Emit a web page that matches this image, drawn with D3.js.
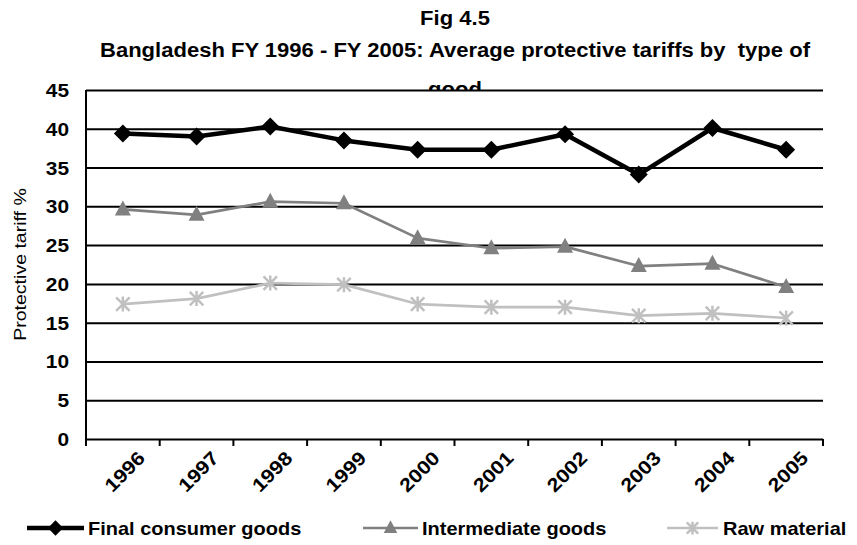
<!DOCTYPE html>
<html><head><meta charset="utf-8">
<script src="https://cdn.jsdelivr.net/npm/d3@7"></script>
<style>body{margin:0;background:#fff}svg{display:block;font-family:"Liberation Sans",Arial,sans-serif}</style>
</head><body>
<script>
const years = ["1996","1997","1998","1999","2000","2001","2002","2003","2004","2005"];
const finalConsumer = [39.4, 39.0, 40.3, 38.5, 37.3, 37.3, 39.3, 34.1, 40.1, 37.3];
const intermediate = [29.6, 28.9, 30.6, 30.4, 25.9, 24.6, 24.8, 22.3, 22.6, 19.6];
const rawMaterial = [17.4, 18.1, 20.1, 19.9, 17.4, 17.0, 17.0, 15.9, 16.2, 15.6];
const yTicks = [0,5,10,15,20,25,30,35,40,45];
const seriesNames = ["Final consumer goods","Intermediate goods","Raw material"];

const W=857,H=545;
const m={l:86,r:857-823,t:90,b:545-439};
const SX=1.13;
const svg=d3.select("body").append("svg").attr("width",W).attr("height",H);
svg.append("rect").attr("width",W).attr("height",H).attr("fill","#fff");

// titles
function title(txt,yb){
 svg.append("text").attr("transform",`translate(455,${yb}) scale(${SX},1)`).attr("text-anchor","middle")
  .style("white-space","pre").attr("xml:space","preserve")
  .attr("font-weight","bold").attr("font-size",19.5).text(txt);
}
title("Fig 4.5",25);
title("Bangladesh FY 1996 - FY 2005: Average protective tariffs by  type of",57);
title("good",96);

const x=d3.scaleBand().domain(years).range([m.l,W-m.r]);
const y=d3.scaleLinear().domain([0,45]).range([H-m.b,m.t]);

// plot background covering third title line
svg.append("rect").attr("x",m.l).attr("y",m.t).attr("width",W-m.r-m.l).attr("height",H-m.b-m.t).attr("fill","#fff");

// grid + y axis
const gy=svg.append("g").attr("transform",`translate(${m.l},0)`)
 .call(d3.axisLeft(y).tickValues(yTicks).tickSize(9).tickPadding(5));
gy.select(".domain").remove();
gy.selectAll(".tick line").attr("stroke","#000").attr("stroke-width",2).attr("x2",W-m.r-m.l);
gy.selectAll(".tick text").remove();
gy.selectAll(".tick").append("text")
 .attr("transform",`translate(-17,0) scale(${SX},1)`).attr("text-anchor","end").attr("dy","0.35em")
 .attr("font-size",18.5).attr("font-weight","bold").attr("fill","#000")
 .attr("font-family","Liberation Sans, Arial, sans-serif").text(d=>d);

svg.append("line").attr("x1",m.l).attr("x2",m.l).attr("y1",m.t).attr("y2",H-m.b+7).attr("stroke","#000").attr("stroke-width",2);

// x axis ticks at band boundaries
const bounds=years.map(d=>x(d)).concat([W-m.r]);
svg.selectAll(".xt").data(bounds).enter().append("line").attr("x1",d=>d).attr("x2",d=>d)
 .attr("y1",H-m.b).attr("y2",H-m.b+7).attr("stroke","#000").attr("stroke-width",2);
svg.selectAll(".xl").data(years).enter().append("text")
 .attr("transform",d=>`translate(${x(d)+x.bandwidth()/2+14},${H-m.b+11}) rotate(-45) scale(${SX},1)`)
 .attr("text-anchor","end").attr("dy","0.7em").attr("font-size",19).attr("font-weight","bold").text(d=>d);

svg.append("text").attr("transform",`translate(26,${(m.t+H-m.b)/2}) rotate(-90) scale(1.15,1)`).attr("text-anchor","middle")
 .attr("font-size",17).text("Protective tariff %");

const cx=d=>x(d)+x.bandwidth()/2;
const line=d3.line().x((d,i)=>cx(years[i])).y(d=>y(d));

const styles=[
 {data:finalConsumer,color:"#000",w:4.5,sym:"diamond"},
 {data:intermediate,color:"#808080",w:2.7,sym:"triangle"},
 {data:rawMaterial,color:"#c0c0c0",w:2.7,sym:"star"}];

function marker(g,type,color,k){
 k=k||1;
 if(type==="diamond"){
  g.append("path").attr("d",`M0,${-9*k}L${9*k},0L0,${9*k}L${-9*k},0Z`).attr("fill",color);
 } else if(type==="triangle"){
  g.append("path").attr("d",`M0,${-9*k}L${8*k},${6*k}L${-8*k},${6*k}Z`).attr("fill",color);
 } else {
  const s=7.5*k;
  g.append("path").attr("d",`M${-s*0.9},${-s*0.9}L${s*0.9},${s*0.9}M${-s*0.9},${s*0.9}L${s*0.9},${-s*0.9}M0,${-s}L0,${s}`).attr("stroke",color).attr("stroke-width",2.5).attr("fill","none");
 }
}

styles.forEach(s=>{
 svg.append("path").datum(s.data).attr("d",line).attr("fill","none").attr("stroke",s.color).attr("stroke-width",s.w).attr("stroke-linejoin","round");
 s.data.forEach((v,i)=>{
  const g=svg.append("g").attr("transform",`translate(${cx(years[i])},${y(v)})`);
  marker(g,s.sym,s.color);
 });
});

// legend
const leg=[{x1:27,x2:84,tx:88},{x1:363,x2:418,tx:422},{x1:667,x2:718,tx:723}];
styles.forEach((s,i)=>{
 const L=leg[i], ly=528;
 svg.append("line").attr("x1",L.x1).attr("x2",L.x2).attr("y1",ly).attr("y2",ly).attr("stroke",s.color).attr("stroke-width",s.w);
 const g=svg.append("g").attr("transform",`translate(${(L.x1+L.x2)/2},${ly})`);
 marker(g,s.sym,s.color,0.85);
 svg.append("text").attr("transform",`translate(${L.tx},${ly+6.5}) scale(${SX},1)`).attr("font-size",17.7).attr("font-weight","bold").text(seriesNames[i]);
});
</script>
</body></html>
